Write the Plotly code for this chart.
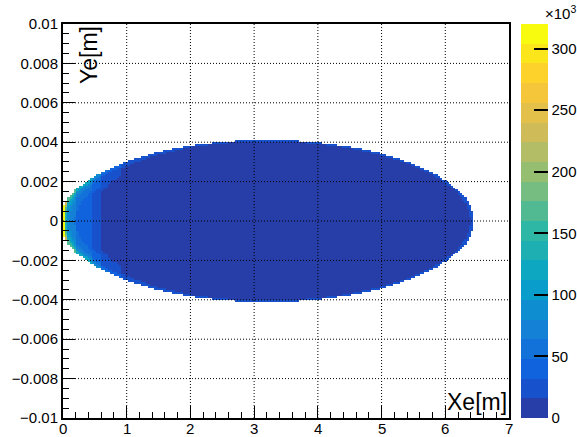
import numpy as np
import plotly.graph_objects as go

# ---- histogram binning (Xe vs Ye) ----
X_MIN, X_MAX, NX = 0.0, 7.0, 200
Y_MIN, Y_MAX, NY = -0.01, 0.01, 200

# ---- elliptical footprint of the electron spot ----
ELLIPSE_CENTER_X = 3.2      # m
ELLIPSE_HALF_X = 3.25       # m
ELLIPSE_HALF_Y = 0.0041     # m

# ---- column intensity scale (counts x10^3), each value holds from its x edge onward ----
ZONE_X = [0.0, 0.035, 0.07, 0.20, 0.45, 0.60, 0.70, 0.90, 1.30, 2.00]
ZONE_LEVEL = [63.0, 33.6, 24.0, 18.5, 13.6, 7.8, 7.0, 4.5, 3.5, 3.0]
EDGE_FLOOR = 0.15           # limit of the rim enhancement factor

# ---- colour axis (counts x10^3) ----
Z_MAX = 320.0
N_LEVELS = 20
BAND_COLORS = [
    "#273da8", "#1752cc", "#1063dc", "#1272d9", "#1480d6",
    "#0e8ed1", "#099dcc", "#0ea7c2", "#1eafb3", "#2eb7a4",
    "#51ba92", "#75bd80", "#96be71", "#b3bd65", "#d0bb59",
    "#e3c04a", "#f5c63a", "#fdd22b", "#fbe61c", "#f9fb0e",
]

# ---- axis ticks ----
X_TICKS = [0, 1, 2, 3, 4, 5, 6, 7]
X_TICK_TEXT = ["0", "1", "2", "3", "4", "5", "6", "7"]
Y_TICKS = [-0.01, -0.008, -0.006, -0.004, -0.002, 0, 0.002, 0.004, 0.006, 0.008, 0.01]
Y_TICK_TEXT = ["\u22120.01", "\u22120.008", "\u22120.006", "\u22120.004", "\u22120.002", "0",
               "0.002", "0.004", "0.006", "0.008", "0.01"]
Z_TICKS = [0, 50, 100, 150, 200, 250, 300]
Z_TICK_TEXT = ["0", "50", "100", "150", "200", "250", "300"]

# ---- build the 2D histogram ----
x_centers = X_MIN + (np.arange(NX) + 0.5) * (X_MAX - X_MIN) / NX
y_centers = Y_MIN + (np.arange(NY) + 0.5) * (Y_MAX - Y_MIN) / NY
u = (x_centers - ELLIPSE_CENTER_X) / ELLIPSE_HALF_X
v = y_centers / ELLIPSE_HALF_Y
r2 = u[None, :] ** 2 + v[:, None] ** 2
inside = r2 < 1.0
depth = np.sqrt(np.clip(1.0 - r2, 0.0, None))
depth = np.maximum(depth, EDGE_FLOOR)
zone_idx = np.searchsorted(np.array(ZONE_X), x_centers, side="right") - 1
level = np.array(ZONE_LEVEL)[zone_idx]
z = level[None, :] / depth
z = np.minimum(z, Z_MAX - 0.5)
z = np.where(inside, z, np.nan)

# discrete colour scale with one band per contour level
colorscale = []
for i, c in enumerate(BAND_COLORS):
    colorscale.append([i / N_LEVELS, c])
    colorscale.append([(i + 1) / N_LEVELS, c])

FONT = "Liberation Sans, Arial, Helvetica, sans-serif"
TICK_FONT = dict(family=FONT, size=15, color="black")

# plot-area geometry in pixels
W, H = 577, 437
ML, MR, MT, MB = 63, 68, 24, 19
plot_w = W - ML - MR

fig = go.Figure(
    go.Heatmap(
        x=x_centers,
        y=y_centers,
        z=z,
        zmin=0,
        zmax=Z_MAX,
        colorscale=colorscale,
        zsmooth=False,
        hoverongaps=False,
        colorbar=dict(
            x=(521 - ML) / plot_w,
            xanchor="left",
            y=0.5,
            yanchor="middle",
            len=1.0,
            lenmode="fraction",
            thickness=27,
            thicknessmode="pixels",
            xpad=0,
            ypad=0,
            outlinewidth=0,
            tickmode="array",
            tickvals=Z_TICKS,
            ticktext=Z_TICK_TEXT,
            ticks="inside",
            ticklen=14,
            tickwidth=1.5,
            tickcolor="black",
            tickfont=TICK_FONT,
        ),
    )
)

# dotted grid drawn over the histogram
grid = dict(color="black", width=1, dash="1px,2px")
shapes = []
for xv in X_TICKS[1:-1]:
    shapes.append(dict(type="line", xref="x", yref="paper", x0=xv, x1=xv, y0=0, y1=1,
                       line=grid, layer="above"))
for yv in Y_TICKS[1:-1]:
    shapes.append(dict(type="line", xref="paper", yref="y", x0=0, x1=1, y0=yv, y1=yv,
                       line=grid, layer="above"))

axis_common = dict(
    showline=True,
    linecolor="black",
    linewidth=2,
    mirror=True,
    showgrid=False,
    zeroline=False,
    ticks="inside",
    ticklen=12,
    tickwidth=1,
    tickcolor="black",
    tickfont=TICK_FONT,
)

# x tick labels sit tight under the axis
annotations = [
    dict(text=t, xref="x", yref="paper", x=v_, y=0, xanchor="center", yanchor="top",
         yshift=0, showarrow=False, font=TICK_FONT)
    for v_, t in zip(X_TICKS, X_TICK_TEXT)
]
annotations += [
    dict(text="Xe[m]", xref="paper", yref="paper", x=1, y=0, xanchor="right", yanchor="bottom",
         yshift=1, showarrow=False, font=dict(family=FONT, size=23, color="black")),
    dict(text="Ye[m]", xref="paper", yref="paper", x=0, y=1, xanchor="left", yanchor="top",
         xshift=11, textangle=-90, showarrow=False, font=dict(family=FONT, size=23, color="black")),
    dict(text="\u00d710<sup>3</sup>", xref="paper", yref="paper", x=(543 - ML) / plot_w, y=1,
         xanchor="left", yanchor="bottom", showarrow=False, font=TICK_FONT),
]

fig.update_layout(
    width=W,
    height=H,
    margin=dict(l=ML, r=MR, t=MT, b=MB, autoexpand=False),
    paper_bgcolor="white",
    plot_bgcolor="white",
    shapes=shapes,
    xaxis=dict(
        range=[X_MIN, X_MAX],
        tickmode="array",
        tickvals=X_TICKS,
        showticklabels=False,
        minor=dict(ticks="inside", ticklen=6, tickcolor="black", dtick=0.2, tick0=0, showgrid=False),
        **axis_common,
    ),
    yaxis=dict(
        range=[Y_MIN, Y_MAX],
        tickmode="array",
        tickvals=Y_TICKS,
        ticktext=Y_TICK_TEXT,
        minor=dict(ticks="inside", ticklen=6, tickcolor="black", dtick=0.0005, tick0=0, showgrid=False),
        **axis_common,
    ),
    annotations=annotations,
)

fig.write_html("out.html")
